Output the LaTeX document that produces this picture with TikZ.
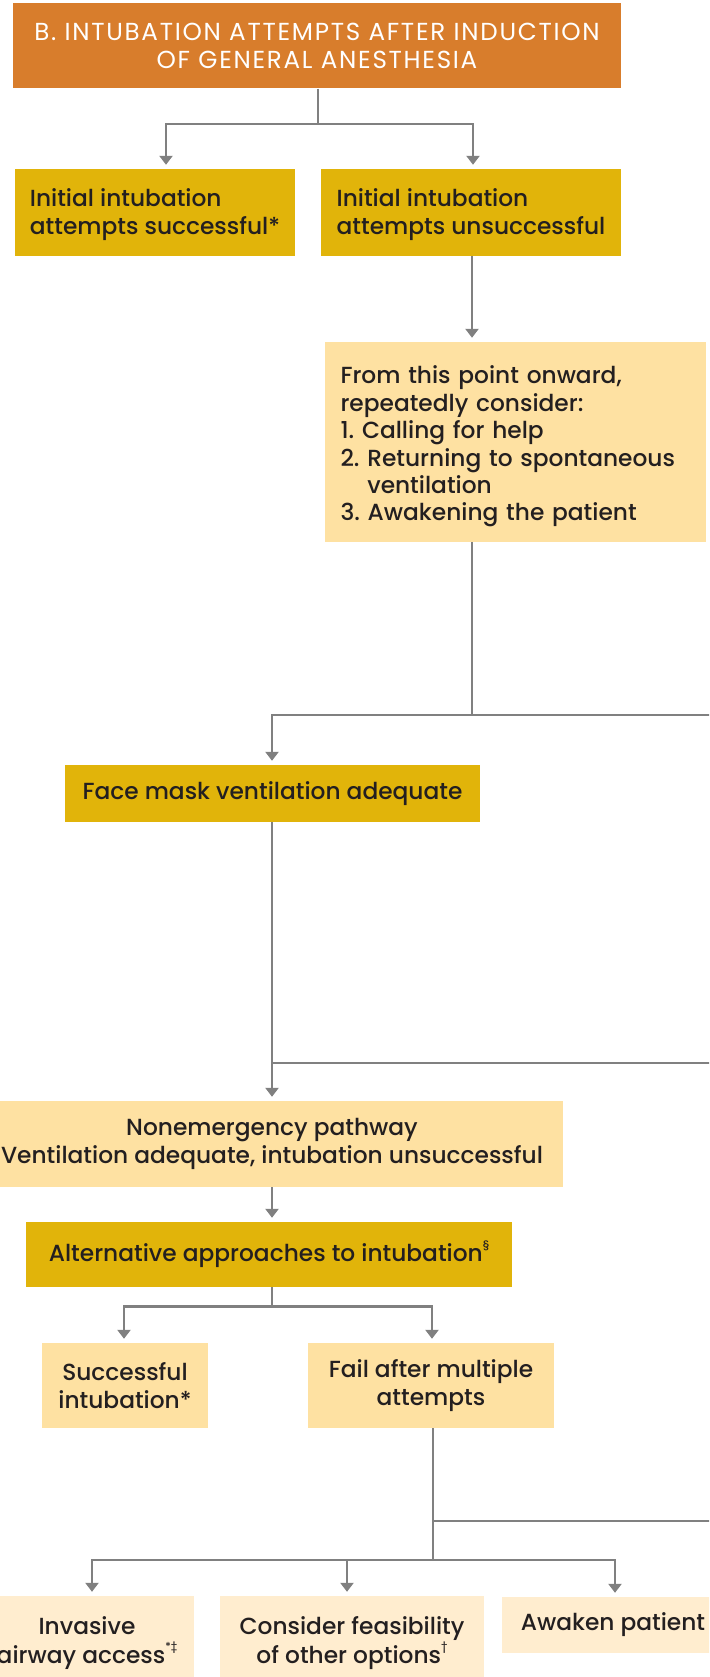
\documentclass[tikz,border=0pt]{standalone}
\usepackage{fontspec}
\setmainfont{Poppins Medium}
\newfontfamily\titlefont{Poppins}[LetterSpace=7]
\usetikzlibrary{arrows.meta}
\definecolor{orangeT}{HTML}{D87D2C}
\definecolor{gold}{HTML}{E1B40A}
\definecolor{light}{HTML}{FEE1A2}
\definecolor{lightest}{HTML}{FFEDCF}
\definecolor{linegray}{HTML}{808080}
\definecolor{ink}{HTML}{231F20}
\newcommand{\sups}[1]{\raisebox{0.55em}{\fontsize{11}{11}\selectfont #1}}
\begin{document}
\begin{tikzpicture}[x=1pt,y=-1pt,
  box/.style={rectangle, inner sep=0pt, text=ink, align=center, font=\fontsize{23.3}{28.5}\selectfont},
  titlebox/.style={box, fill=orangeT, text=white, font=\titlefont\fontsize{24.6}{28.5}\selectfont},
  goldbox/.style={box, fill=gold},
  lightbox/.style={box, fill=light},
  palebox/.style={box, fill=lightest},
  conn/.style={draw=linegray, line width=2.7pt},
  arr/.style={conn, -{Triangle[width=13pt,length=9pt]}, shorten >=4pt},
]
\useasboundingbox (0,0) rectangle (709,1677);
\clip (0,0) rectangle (709,1677);

\node[titlebox, minimum width=608pt, minimum height=85pt] (T) at (317,46) {B. INTUBATION ATTEMPTS AFTER INDUCTION\\OF GENERAL ANESTHESIA};
\node[goldbox, minimum width=280pt, minimum height=87pt, align=left] (A) at (155,212.5) {\rule{0pt}{22pt}Initial intubation\\attempts successful*};
\node[goldbox, minimum width=300pt, minimum height=87pt, align=left] (B) at (471,212.5) {\rule{0pt}{22pt}Initial intubation\\attempts unsuccessful};
\node[lightbox, minimum width=381pt, minimum height=200pt, text width=350pt, align=left, font=\fontsize{23.3}{27.4}\selectfont] (C) at (515.5,442) {\rule{0pt}{27pt}From this point onward,\\repeatedly consider:\\1.~Calling for help\\2.~Returning to spontaneous\\\phantom{2.~}ventilation\\3.~Awakening the patient};
\node[goldbox, minimum width=415pt, minimum height=57pt] (D) at (272.5,793.5) {Face mask ventilation adequate};
\node[lightbox, minimum width=582pt, minimum height=86pt] (E) at (272,1144) {Nonemergency pathway\\Ventilation adequate, intubation unsuccessful};
\node[goldbox, minimum width=486pt, minimum height=65pt] (F) at (269,1254.5) {Alternative approaches to intubation\sups{§}};
\node[lightbox, minimum width=166pt, minimum height=85pt] (G) at (125,1385.5) {Successful\\intubation*};
\node[lightbox, minimum width=246pt, minimum height=85pt] (H) at (431,1385.5) {Fail after multiple\\attempts};
\node[palebox, minimum width=214pt, minimum height=94pt] (I) at (87,1643) {Invasive\\airway access\sups{*‡}};
\node[palebox, minimum width=264pt, minimum height=94pt] (J) at (352,1643) {Consider feasibility\\of other options\sups{†}};
\node[palebox, minimum width=222pt, minimum height=56pt] (K) at (613,1625) {Awaken patient};

% junctions
\coordinate (j1) at (318,124);
\coordinate (xa) at (166,0);
\coordinate (xb) at (473,0);
\coordinate (xc) at (472,0);
\coordinate (j2) at (472,715);
\coordinate (r2) at (715,715);
\coordinate (xm) at (272,0);
\coordinate (j3) at (272,1063);
\coordinate (r3) at (715,1063);
\coordinate (j4) at (272,1306.5);
\coordinate (xg) at (124,0);
\coordinate (xh) at (432,0);
\coordinate (xv) at (433,0);
\coordinate (k1) at (433,1521);
\coordinate (r4) at (715,1521);
\coordinate (j5) at (433,1560);
\coordinate (xi) at (92,0);
\coordinate (xj) at (347,0);
\coordinate (xk) at (615,0);

\draw[conn] (T.south -| j1) -- (j1);
\draw[arr] (j1) -| (A.north -| xa);
\draw[arr] (j1) -| (B.north -| xb);
\draw[arr] (B.south -| xc) -- (C.north -| xc);
\draw[conn] (C.south -| xc) -- (j2);
\draw[conn] (j2) -- (r2);
\draw[arr] (j2) -| (D.north -| xm);
\draw[arr] (D.south -| xm) -- (E.north -| xm);
\draw[conn] (r3) -- (j3);
\draw[arr] (E.south -| xm) -- (F.north -| xm);
\draw[conn] (F.south -| xm) -- (j4);
\draw[arr] (j4) -| (G.north -| xg);
\draw[arr] (j4) -| (H.north -| xh);
\draw[conn] (H.south -| xv) -- (j5);
\draw[conn] (k1) -- (r4);
\draw[arr] (j5) -| (I.north -| xi);
\draw[arr] (j5) -| (J.north -| xj);
\draw[arr] (j5) -| (K.north -| xk);
\end{tikzpicture}
\end{document}
